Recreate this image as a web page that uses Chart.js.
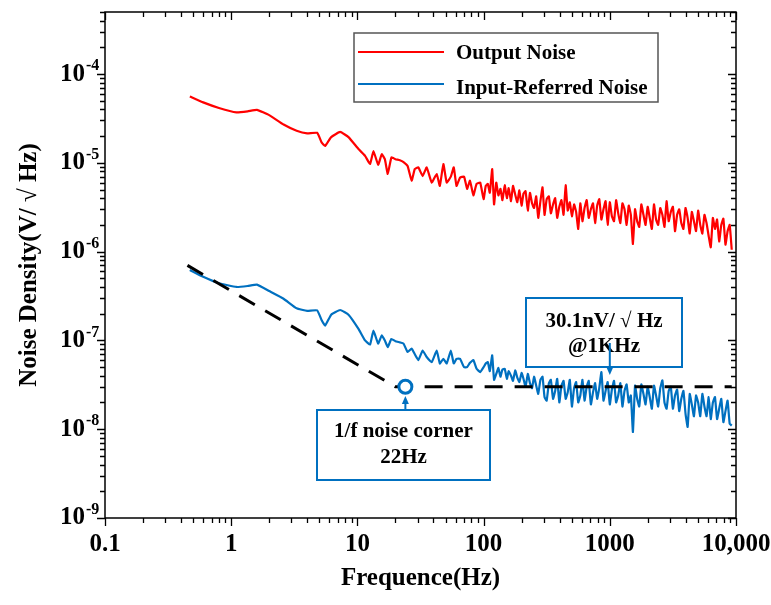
<!DOCTYPE html>
<html>
<head>
<meta charset="utf-8">
<script src="https://cdn.jsdelivr.net/npm/chart.js@4.4.0/dist/chart.umd.min.js"></script>
<style>
  html, body { margin: 0; padding: 0; background: #fff; }
</style>
</head>
<body>
<canvas id="noiseChart" width="771" height="605"></canvas>
<script>
// ===== NOISE DENSITY SPECTRUM =====

// frequency points (Hz), shared by both traces
const freqHz = [
  0.47, 0.6, 0.8, 1.1, 1.35, 1.6, 2.0, 2.6, 3.3, 4.0,
  4.8, 5.2, 5.55, 6.2, 7.3, 8.5, 10.2, 11.5, 12.6, 13.4,
  14.6, 15.6, 16.5, 17.4, 18.6, 20, 21.7, 23.2, 25, 26.9,
  28.5, 30.4, 32.9, 35.4, 38.8, 42.5, 45, 48, 51, 55,
  58, 61, 65, 70, 74, 78, 83, 88, 94,
  100, 104, 108, 112, 117, 121, 126, 131, 136, 141, 147, 153, 158,
  165, 171, 178, 185, 192, 200, 207, 215, 224, 233, 242, 251,
  261, 271, 282, 293, 304, 316, 329, 341, 355, 369, 383, 398,
  414, 430, 447, 464, 482, 501, 521, 541, 562, 584, 607, 631,
  656, 681, 708, 736, 765, 794, 825, 858, 891, 926, 962,
  1000, 1039, 1080, 1122, 1166, 1212, 1259, 1308, 1359, 1413, 1468,
  1525, 1585, 1647, 1711, 1778, 1848, 1920, 1995, 2073, 2154,
  2239, 2326, 2417, 2512, 2610, 2712, 2818, 2929, 3043,
  3162, 3286, 3415, 3548, 3687, 3831, 3981, 4137, 4299, 4467,
  4642, 4823, 5012, 5208, 5412, 5623, 5843, 6072, 6310, 6557,
  6813, 7080, 7357, 7645, 7943, 8254, 8577, 8913, 9250
];

// output noise, uV/sqrt(Hz)
const outputNoiseUV = [
  56, 48, 41.5, 37, 38, 39.5, 34.5, 27, 23, 21.5,
  21.8, 17, 15.5, 19.5, 22.3, 19.5, 14.3, 12, 9.7, 13.6,
  9.5, 12.5, 11, 7.5, 11.5, 11, 10.7, 10.2, 9.2, 6.3,
  8.5, 8.9, 7.1, 8.9, 6.0, 7.5, 5.5, 9.7, 6.0, 7.0,
  8.9, 5.5, 6.8, 7.0, 5.1, 6.3, 4.3, 5.8, 6.0,
  3.9, 5.5, 5.8, 4.6, 8.5, 3.4, 6.0, 4.3, 5.1, 3.8, 5.6, 4.0, 5.2,
  3.7, 5.5, 4.4, 3.6, 4.9, 3.3, 4.5, 4.8, 2.9, 4.6, 3.5, 3.1,
  4.2, 2.4, 3.7, 5.3, 2.6, 3.9, 4.2, 2.7, 3.4, 4.0, 2.4, 3.2,
  3.8, 2.6, 5.6, 2.9, 3.6, 2.5, 3.4, 2.8, 1.8, 3.5, 2.2, 3.1,
  3.8, 2.4, 3.0, 3.5, 2.1, 3.3, 3.9, 2.3, 3.0, 3.7, 2.0,
  3.6, 2.5, 2.2, 3.8, 2.7, 2.1, 3.5, 3.0, 2.0, 3.3, 2.6,
  1.22, 3.0, 2.2, 1.9, 3.4, 2.6, 2.0, 3.2, 2.4, 1.8,
  3.4, 2.3, 2.0, 3.1, 2.6, 1.9, 3.7, 2.2, 2.8,
  3.2, 1.7, 2.6, 3.0, 2.1, 1.8, 3.1, 2.4, 1.6, 2.8,
  2.2, 1.7, 2.9, 2.0, 1.6, 2.6, 2.1, 1.5, 1.12, 2.4,
  1.8, 2.3, 1.3, 2.0, 2.35, 1.2, 1.7, 2.0, 1.05
];

// input-referred noise, nV/sqrt(Hz)
const inputNoiseNV = [
  620, 520, 440, 400, 410, 425, 360, 295, 230, 215,
  218, 170, 147, 195, 220, 195, 135, 100, 90, 129,
  92, 114, 100, 84, 104, 98, 95, 92, 74, 81,
  70, 60, 77, 65, 57, 77, 55, 62, 55, 77,
  55, 62, 62, 50, 50, 56, 60, 48, 44,
  50, 55, 57, 45, 68, 36, 42, 49, 39, 47, 48, 37, 45,
  40, 35, 46, 38, 34, 43, 37, 30, 42, 33, 29, 39,
  31, 25, 36, 39, 23, 21, 33, 36, 22, 27, 37, 20,
  31, 35, 22, 26, 36, 18, 29, 34, 20, 24, 36, 21,
  30, 35, 19, 26, 33, 22, 29, 44, 21, 27, 34,
  19, 28, 35, 20, 24, 33, 18, 27, 32, 20, 24,
  9.3, 31, 22, 18, 32, 25, 19, 30, 23, 17,
  31, 24, 18, 29, 35.5, 20, 17, 27, 30,
  17, 24, 28, 16, 22, 27, 15, 10.6, 25, 19,
  14, 24, 20, 14, 25, 18, 14, 23, 13, 20,
  23, 13, 17, 22, 12, 16, 21, 11.5, 11
];

// 1/f fit line and white-noise floor
const fitLineHz = [0.45, 20, 9250];
const fitLineV = [7.0e-7, 3.01e-8, 3.01e-8];
const cornerHz = [24];
const cornerV = [3.01e-8];

const xTickValues = [0.1, 1, 10, 100, 1000, 10000];
const xTickLabels = ['0.1', '1', '10', '100', '1000', '10,000'];
const yTickValues = [1e-9, 1e-8, 1e-7, 1e-6, 1e-5, 1e-4];
const yTickBase = '10';
const yTickExponents = ['-9', '-8', '-7', '-6', '-5', '-4'];

const cornerNote = ['1/f noise corner', '22Hz'];
const floorNote = ['30.1nV/ \u221A Hz', '@1KHz'];

const RED = '#FF0000';
const BLUE = '#0070C0';
const SERIF = '"Liberation Serif", "Times New Roman", serif';

Chart.defaults.font.family = SERIF;
Chart.defaults.color = '#000';

// box with log ticks on all four sides (outside on left/bottom, inside on top/right)
const frameTicks = {
  id: 'frameTicks',
  afterDatasetsDraw(chart) {
    const { ctx, chartArea: a, scales: { x, y } } = chart;
    ctx.save();
    ctx.strokeStyle = '#000';
    ctx.lineWidth = 1.5;
    ctx.strokeRect(a.left, a.top, a.right - a.left, a.bottom - a.top);
    ctx.lineWidth = 1.3;
    ctx.beginPath();
    for (let e = -1; e <= 4; e++) {
      for (let m = 1; m <= 9; m++) {
        const v = m * Math.pow(10, e);
        if (v > x.max * 1.001) break;
        const px = Math.round(x.getPixelForValue(v)) + 0.5;
        const len = m === 1 ? 8 : 5;
        ctx.moveTo(px, a.bottom); ctx.lineTo(px, a.bottom + len);
        ctx.moveTo(px, a.top); ctx.lineTo(px, a.top + len);
      }
    }
    for (let e = -9; e <= -4; e++) {
      for (let m = 1; m <= 9; m++) {
        const v = m * Math.pow(10, e);
        if (v > y.max * 1.001) break;
        const py = Math.round(y.getPixelForValue(v)) + 0.5;
        const len = m === 1 ? 8 : 5;
        ctx.moveTo(a.left - len, py); ctx.lineTo(a.left, py);
        ctx.moveTo(a.right - len, py); ctx.lineTo(a.right, py);
      }
    }
    ctx.stroke();

    // exponents for the y tick labels
    ctx.fillStyle = '#000';
    ctx.font = 'bold 16px ' + SERIF;
    ctx.textAlign = 'left';
    ctx.textBaseline = 'middle';
    yTickValues.forEach((v, i) => {
      ctx.fillText(yTickExponents[i], a.left - 19, y.getPixelForValue(v) - 8);
    });
    ctx.restore();
  }
};

// legend box in the upper right
const legendBox = {
  id: 'legendBox',
  afterDraw(chart) {
    const ctx = chart.ctx;
    const items = chart.data.datasets.filter(d => d.inLegend);
    ctx.save();
    ctx.fillStyle = '#fff';
    ctx.fillRect(354, 33, 304, 69);
    ctx.strokeStyle = '#555';
    ctx.lineWidth = 1.5;
    ctx.strokeRect(354, 33, 304, 69);
    items.forEach((d, i) => {
      const ly = 52 + i * 32;
      ctx.strokeStyle = d.borderColor;
      ctx.lineWidth = 2;
      ctx.beginPath();
      ctx.moveTo(358, ly); ctx.lineTo(444, ly);
      ctx.stroke();
      ctx.fillStyle = '#000';
      ctx.font = 'bold 21px ' + SERIF;
      ctx.textAlign = 'left';
      ctx.textBaseline = 'middle';
      ctx.fillText(d.label, 456, ly + 2 + i * 3);
    });
    ctx.restore();
  }
};

function arrow(ctx, x0, y0, y1) {
  const dir = y1 > y0 ? 1 : -1;
  ctx.beginPath();
  ctx.moveTo(x0, y0); ctx.lineTo(x0, y1 - dir * 6);
  ctx.stroke();
  ctx.beginPath();
  ctx.moveTo(x0, y1);
  ctx.lineTo(x0 - 3.5, y1 - dir * 8);
  ctx.lineTo(x0 + 3.5, y1 - dir * 8);
  ctx.closePath();
  ctx.fill();
}

// call-out boxes
const callouts = {
  id: 'callouts',
  afterDraw(chart) {
    const { ctx, scales: { x } } = chart;
    ctx.save();
    ctx.strokeStyle = BLUE;
    ctx.fillStyle = BLUE;
    ctx.lineWidth = 2;

    const cx = x.getPixelForValue(cornerHz[0]);
    arrow(ctx, cx, 410, 396);
    const fx = x.getPixelForValue(1000);

    ctx.fillStyle = '#fff';
    ctx.fillRect(317, 410, 173, 70);
    ctx.strokeRect(317, 410, 173, 70);
    ctx.fillRect(526, 298, 156, 69);
    ctx.strokeRect(526, 298, 156, 69);

    ctx.fillStyle = '#000';
    ctx.font = 'bold 21px ' + SERIF;
    ctx.textAlign = 'center';
    ctx.textBaseline = 'middle';
    ctx.fillText(cornerNote[0], 403.5, 432);
    ctx.fillText(cornerNote[1], 403.5, 458);
    ctx.fillText(floorNote[0], 604, 322);
    ctx.fillText(floorNote[1], 604, 347);

    // arrow from the 1 kHz note passes over its own text
    ctx.fillStyle = BLUE;
    arrow(ctx, fx, 343, 375);
    ctx.restore();
  }
};

new Chart(document.getElementById('noiseChart'), {
  type: 'line',
  data: {
    datasets: [
      {
        label: '1/f noise corner',
        data: cornerHz.map((f, i) => ({ x: f, y: cornerV[i] })),
        showLine: false,
        pointRadius: 6.5,
        pointBorderWidth: 3,
        pointBorderColor: BLUE,
        pointBackgroundColor: '#fff'
      },
      {
        label: '1/f fit',
        data: fitLineHz.map((f, i) => ({ x: f, y: fitLineV[i] })),
        borderColor: '#000',
        borderWidth: 3,
        borderDash: [18, 12],
        pointRadius: 0,
        tension: 0
      },
      {
        label: 'Output Noise',
        inLegend: true,
        data: freqHz.map((f, i) => ({ x: f, y: outputNoiseUV[i] * 1e-6 })),
        borderColor: RED,
        borderWidth: 2.2,
        pointRadius: 0,
        tension: 0.12
      },
      {
        label: 'Input-Referred Noise',
        inLegend: true,
        data: freqHz.map((f, i) => ({ x: f, y: inputNoiseNV[i] * 1e-9 })),
        borderColor: BLUE,
        borderWidth: 2.2,
        pointRadius: 0,
        tension: 0.12
      }
    ]
  },
  options: {
    responsive: false,
    animation: false,
    devicePixelRatio: 1,
    events: [],
    layout: { padding: { top: 12, right: 35, left: 0, bottom: 0 } },
    plugins: {
      legend: { display: false },
      tooltip: { enabled: false }
    },
    scales: {
      x: {
        type: 'logarithmic',
        min: 0.1,
        max: 10000,
        afterBuildTicks: s => { s.ticks = xTickValues.map(v => ({ value: v })); },
        afterFit: s => { s.height = 87; s.paddingLeft = 0; s.paddingRight = 0; },
        grid: { display: false, drawTicks: false },
        border: { display: false },
        ticks: {
          callback: (v, i) => xTickLabels[i],
          font: { size: 25, weight: 'bold' },
          color: '#000',
          padding: 12,
          maxRotation: 0,
          autoSkip: false
        },
        title: {
          display: true,
          text: 'Frequence(Hz)',
          font: { size: 25, weight: 'bold' },
          color: '#000',
          padding: { top: 0, bottom: 11 }
        }
      },
      y: {
        type: 'logarithmic',
        min: 1e-9,
        max: 5e-4,
        afterBuildTicks: s => { s.ticks = yTickValues.map(v => ({ value: v })); },
        afterFit: s => { s.width = 105; s.paddingTop = 0; s.paddingBottom = 0; },
        grid: { display: false, drawTicks: false },
        border: { display: false },
        ticks: {
          callback: () => yTickBase,
          font: { size: 25, weight: 'bold' },
          color: '#000',
          padding: 20,
          autoSkip: false
        },
        title: {
          display: true,
          text: 'Noise Density(V/ \u221A Hz)',
          font: { size: 25, weight: 'bold' },
          color: '#000',
          padding: { top: 15, bottom: 0 }
        }
      }
    }
  },
  plugins: [frameTicks, legendBox, callouts]
});
</script>
</body>
</html>
